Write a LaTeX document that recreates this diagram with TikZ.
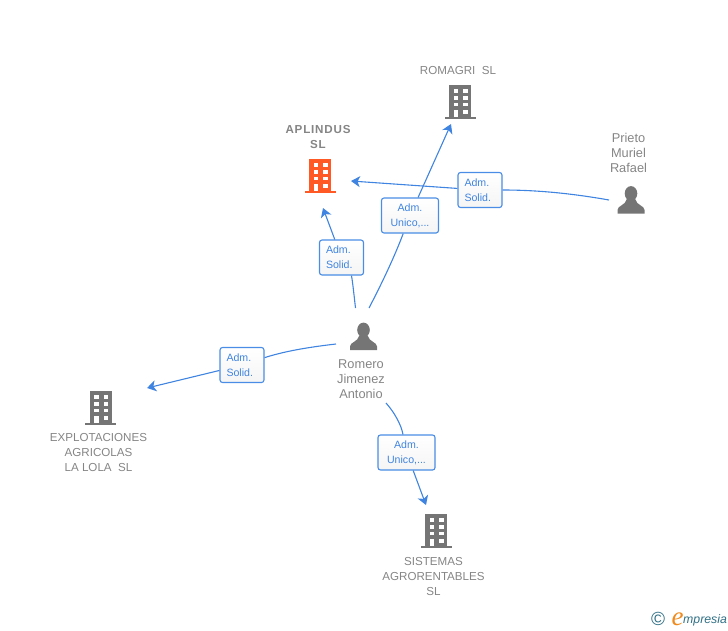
\documentclass[tikz,border=0pt]{standalone}
\usepackage{fontspec}
\setmainfont{Liberation Sans}
\newfontfamily\spacedfont[LetterSpace=7]{Liberation Sans}
\newfontfamily\logofont{Liberation Serif}
\usetikzlibrary{arrows.meta,calc}
\definecolor{linkblue}{HTML}{3F84E0}
\definecolor{boxblue}{HTML}{4A8DE6}
\definecolor{icongray}{HTML}{757575}
\definecolor{namegray}{HTML}{858585}
\definecolor{iconorange}{HTML}{FF5A26}
\definecolor{logoteal}{HTML}{2F6F85}
\definecolor{logoorange}{HTML}{F08A1D}
\def\buildingicon(#1)[#2]{
	\fill[#2] ($(#1)+(-11,-17)$) rectangle ($(#1)+(11,15)$);
	\fill[#2] ($(#1)+(-15.5,14.5)$) rectangle ($(#1)+(15.5,17)$);
	\fill[white] ($(#1)+(-6.2,-13)$) rectangle ($(#1)+(-2,-9)$);
	\fill[white] ($(#1)+(3,-13)$) rectangle ($(#1)+(7.5,-9)$);
	\fill[white] ($(#1)+(-6.2,-6.2)$) rectangle ($(#1)+(-2,-2.2)$);
	\fill[white] ($(#1)+(3,-6.2)$) rectangle ($(#1)+(7.5,-2.2)$);
	\fill[white] ($(#1)+(-6.2,0.6)$) rectangle ($(#1)+(-2,4.4)$);
	\fill[white] ($(#1)+(3,0.6)$) rectangle ($(#1)+(7.5,4.4)$);
	\fill[white] ($(#1)+(-6.2,7.6)$) rectangle ($(#1)+(-2,15)$);
	\fill[white] ($(#1)+(3,7.6)$) rectangle ($(#1)+(7.5,11.6)$);
}
\def\personicon(#1){
	\fill[icongray] ($(#1)+(0,-6.5)$) ellipse (6.3 and 7.4);
	\fill[icongray] ($(#1)+(-13.5,13.5)$) -- ($(#1)+(-13.5,10)$) .. controls ($(#1)+(-13.5,5.5)$) and ($(#1)+(-5.5,5.5)$) .. ($(#1)+(-4.2,-1)$) -- ($(#1)+(4.2,-1)$) .. controls ($(#1)+(5.5,5.5)$) and ($(#1)+(13.5,5.5)$) .. ($(#1)+(13.5,10)$) -- ($(#1)+(13.5,13.5)$) -- cycle;
}
\tikzset{
	namelabel/.style={text=namegray, font=\fontsize{11.6}{15}\selectfont, align=center, inner sep=0pt},
	admbox/.style={draw=boxblue, line width=1.1pt, rounded corners=2.5pt, top color=white, bottom color=black!4, text=linkblue, font=\fontsize{10.6}{15}\selectfont, minimum height=35, inner ysep=0pt},
	solidbox/.style={admbox, align=left, text width=31, inner xsep=6.5, minimum width=44},
	unicobox/.style={admbox, align=center, inner xsep=0pt, minimum width=57},
	link/.style={draw=linkblue, line width=1.1pt},
	linkarrow/.style={link, -{Stealth[length=9pt,width=11pt,inset=2.5pt]}},
}
\begin{document}
\begin{tikzpicture}[x=1pt,y=-1pt]
	%%%%% START %%%%%
	\useasboundingbox (0, 0) rectangle (728, 630);

	\coordinate (aplindus) at (320, 176);
	\coordinate (romagri) at (460, 102);
	\coordinate (explotaciones) at (100.5, 408);
	\coordinate (sistemas) at (436, 531);
	\coordinate (romero) at (363.5, 336.5);
	\coordinate (prieto) at (631, 200);

	\buildingicon(aplindus)[iconorange]
	\buildingicon(romagri)[icongray]
	\buildingicon(explotaciones)[icongray]
	\buildingicon(sistemas)[icongray]
	\personicon(romero)
	\personicon(prieto)

	\node[namelabel, font=\fontsize{11.6}{15}\selectfont\spacedfont\bfseries] (aplindusname) at (318, 137.5) {APLINDUS\\SL};
	\node[namelabel] (romagriname) at (458, 71) {ROMAGRI\ \ SL};
	\node[namelabel] (explotacionesname) at (98.5, 452) {EXPLOTACIONES\\AGRICOLAS\\LA LOLA\ \ SL};
	\node[namelabel] (sistemasname) at (433.5, 576) {SISTEMAS\\AGRORENTABLES\\SL};
	\node[namelabel, font=\fontsize{12.8}{15}\selectfont] (romeroname) at (361, 379) {Romero\\Jimenez\\Antonio};
	\node[namelabel, font=\fontsize{12.8}{15}\selectfont] (prietoname) at (628.5, 153) {Prieto\\Muriel\\Rafael};

	\node[solidbox] (admaplindus) at (341.5, 257.5) {Adm.\\Solid.};
	\node[unicobox] (admromagri) at (410, 215.5) {Adm.\\Unico,...};
	\node[solidbox] (admprieto) at (480, 190) {Adm.\\Solid.};
	\node[solidbox] (admexplotaciones) at (242, 365) {Adm.\\Solid.};
	\node[unicobox] (admsistemas) at (406.5, 452.5) {Adm.\\Unico,...};

	\coordinate (romeroA) at (355.5, 308);
	\coordinate (romeroB) at (369, 308);
	\coordinate (romeroC) at (336, 344);
	\coordinate (romeroD) at (386, 403);
	\coordinate (prietoA) at (609, 200);
	\coordinate (aplindusA) at (323, 208);
	\coordinate (aplindusB) at (351, 181);
	\coordinate (romagriA) at (451, 124);
	\coordinate (explotacionesA) at (147, 388);
	\coordinate (sistemasA) at (426, 505);

	\draw[link] (romeroA) .. controls (354, 295) and (353, 285) .. (admaplindus.-61);
	\draw[linkarrow] (admaplindus) -- (aplindusA);
	\draw[link] (romeroB) .. controls (381, 285) and (394, 258) .. (admromagri);
	\draw[linkarrow] (admromagri) -- (romagriA);
	\draw[link] (prietoA) .. controls (575, 194) and (540, 190) .. (admprieto);
	\draw[linkarrow] (admprieto) -- (aplindusB);
	\draw[link] (romeroC) .. controls (310, 347) and (285, 351) .. (admexplotaciones);
	\draw[linkarrow] (admexplotaciones) -- (explotacionesA);
	\draw[link] (romeroD) .. controls (394, 412) and (401, 424) .. (admsistemas);
	\draw[linkarrow] (admsistemas) -- (sistemasA);

	\node[text=logoteal, font=\fontsize{19}{19}\selectfont, inner sep=0pt] (logoc) at (658, 619) {©};
	\node[text=logoorange, font=\logofont\itshape\fontsize{27}{27}\selectfont, inner sep=0pt] (logoe) at (677.5, 619) {e};
	\node[text=logoteal, font=\itshape\fontsize{12.3}{12}\selectfont, inner sep=0pt, anchor=west] (logotext) at (683, 620) {mpresia};

	%%%%% END %%%%%
\end{tikzpicture}
\end{document}
